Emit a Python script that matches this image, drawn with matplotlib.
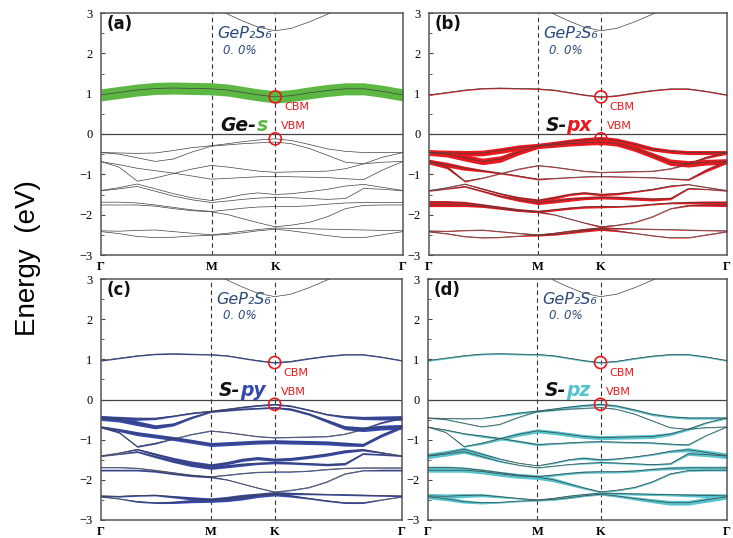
import numpy as np
import matplotlib
matplotlib.use("Agg")
import matplotlib.pyplot as plt
from matplotlib.ticker import MultipleLocator

# ---------------- data ----------------
# k-path positions (fraction of the Γ-M-K-Γ path)
k_M = 0.366
k_K = 0.577
kpts = [0.0, 0.06, 0.12, 0.18, 0.24, 0.30, 0.366, 0.42, 0.47, 0.52, 0.577,
        0.63, 0.69, 0.75, 0.81, 0.87, 0.93, 1.0]
k_labels = ["Γ", "M", "K", "Γ"]

# conduction bands
C1 = [0.97, 1.03, 1.09, 1.13, 1.14, 1.13, 1.12, 1.09, 1.03, 0.97, 0.92, 0.95,
      1.02, 1.08, 1.12, 1.12, 1.06, 0.97]
C2_k = [0.366, 0.42, 0.47, 0.52, 0.577, 0.63, 0.69, 0.75, 0.81]
C2 = [3.25, 2.97, 2.80, 2.65, 2.56, 2.62, 2.78, 2.97, 3.20]

# valence bands
VB1 = [-0.46, -0.47, -0.48, -0.47, -0.41, -0.34, -0.29, -0.24, -0.19, -0.15, -0.12,
       -0.16, -0.26, -0.37, -0.43, -0.46, -0.46, -0.46]
VB2 = [-0.46, -0.50, -0.59, -0.68, -0.62, -0.45, -0.30, -0.27, -0.24, -0.22, -0.20,
       -0.24, -0.36, -0.53, -0.70, -0.74, -0.70, -0.68]
VB3 = [-0.685, -0.76, -0.85, -0.91, -0.97, -1.04, -1.12, -1.10, -1.08, -1.06, -1.05,
       -1.06, -1.07, -1.08, -1.11, -1.13, -0.90, -0.68]
VB4 = [-0.685, -0.82, -1.17, -1.09, -0.98, -0.87, -0.78, -0.82, -0.87, -0.92, -0.95,
       -0.94, -0.93, -0.92, -0.86, -0.74, -0.58, -0.46]
VB5 = [-1.40, -1.33, -1.24, -1.36, -1.48, -1.58, -1.65, -1.58, -1.50, -1.46, -1.50,
       -1.48, -1.43, -1.37, -1.29, -1.25, -1.32, -1.40]
VB6 = [-1.41, -1.36, -1.30, -1.42, -1.54, -1.63, -1.70, -1.66, -1.62, -1.59, -1.57,
       -1.58, -1.60, -1.62, -1.60, -1.35, -1.37, -1.41]
VB7 = [-1.69, -1.69, -1.71, -1.76, -1.82, -1.88, -1.92, -1.88, -1.84, -1.81, -1.80,
       -1.80, -1.78, -1.74, -1.71, -1.70, -1.70, -1.70]
VB8 = [-1.76, -1.76, -1.76, -1.79, -1.85, -1.90, -1.93, -2.00, -2.10, -2.20, -2.30,
       -2.26, -2.19, -2.05, -1.85, -1.77, -1.76, -1.76]
VB9 = [-2.40, -2.41, -2.39, -2.38, -2.42, -2.46, -2.50, -2.46, -2.41, -2.37, -2.33,
       -2.34, -2.35, -2.36, -2.37, -2.38, -2.39, -2.40]
VB10 = [-2.42, -2.47, -2.54, -2.57, -2.56, -2.53, -2.51, -2.49, -2.45, -2.40, -2.36,
        -2.40, -2.46, -2.52, -2.57, -2.57, -2.50, -2.42]

bands = {"C1": C1, "VB1": VB1, "VB2": VB2, "VB3": VB3, "VB4": VB4, "VB5": VB5,
         "VB6": VB6, "VB7": VB7, "VB8": VB8, "VB9": VB9, "VB10": VB10}

# projected weights (half-width of the fat band, eV)
w_Ge_s = {"C1": [0.15] * 18}
w_S_px = {
    "C1": [0.015] * 18,
    "VB1": [.07, .07, .07, .07, .07, .07, .06, .06, .06, .06, .06, .06, .06, .05, .05, .05, .05, .05],
    "VB2": [.07, .07, .08, .08, .08, .07, .06, .06, .06, .06, .06, .06, .07, .07, .08, .08, .07, .07],
    "VB3": [.06, .06, .05, .03, .02, .02, .02, .01, .01, .01, .01, .01, .01, .01, .01, .02, .04, .05],
    "VB4": [.06, .04, .02, .01, .01, .01, .01, .01, .01, .01, .01, .01, .01, .01, .01, .02, .03, .04],
    "VB5": [.01, .01, .01, .02, .02, .03, .04, .04, .03, .03, .03, .03, .02, .02, .02, .01, .01, .01],
    "VB6": [.01, .01, .02, .02, .03, .04, .05, .05, .05, .04, .04, .04, .04, .04, .03, .02, .01, .01],
    "VB7": [.04, .04, .04, .03, .03, .03, .03, .03, .03, .03, .03, .02, .02, .02, .02, .03, .04, .04],
    "VB8": [.04, .04, .04, .03, .02, .02, .02, .01, .01, .01, .02, .01, .01, .01, .01, .02, .03, .04],
    "VB9": [.01, .01, .01, .01, .01, .01, .02, .02, .02, .03, .03, .02, .01, .01, .01, .01, .01, .01],
    "VB10": [.01, .01, .01, .01, .01, .01, .02, .02, .02, .03, .03, .02, .01, .01, .01, .01, .01, .01],
}
w_S_py = {
    "C1": [0.015] * 18,
    "VB1": [.06, .05, .04, .03, .02, .02, .02, .02, .02, .02, .02, .02, .02, .02, .03, .04, .05, .06],
    "VB2": [.06, .06, .06, .05, .04, .03, .02, .02, .02, .02, .02, .03, .03, .04, .05, .06, .06, .06],
    "VB3": [.03, .04, .05, .05, .05, .05, .05, .05, .05, .05, .05, .05, .05, .05, .05, .04, .04, .04],
    "VB4": [.02, .02, .02, .02, .01, .01, .01, .01, .01, .01, .01, .01, .01, .01, .01, .01, .02, .02],
    "VB5": [.01, .01, .02, .03, .04, .05, .05, .04, .04, .04, .04, .04, .04, .04, .04, .03, .02, .01],
    "VB6": [.01, .01, .02, .03, .03, .04, .04, .04, .04, .03, .03, .03, .03, .03, .03, .02, .02, .01],
    "VB7": [.01, .01, .01, .01, .01, .01, .01, .01, .01, .01, .01, .01, .01, .01, .01, .01, .01, .01],
    "VB8": [.02, .02, .02, .02, .02, .02, .02, .01, .01, .01, .01, .01, .01, .01, .01, .01, .02, .02],
    "VB9": [.02, .02, .02, .02, .03, .04, .05, .05, .05, .04, .04, .03, .02, .02, .02, .02, .02, .02],
    "VB10": [.01, .01, .02, .02, .03, .04, .05, .05, .05, .04, .04, .03, .02, .02, .02, .02, .01, .01],
}
w_S_pz = {
    "C1": [0.02] * 18,
    "VB1": [.01, .01, .01, .01, .02, .03, .03, .03, .03, .03, .03, .03, .03, .03, .03, .03, .03, .03],
    "VB2": [.01, .01, .01, .01, .01, .01, .01, .01, .01, .01, .01, .01, .01, .01, .01, .01, .01, .01],
    "VB3": [.01, .02, .02, .03, .03, .03, .03, .02, .02, .02, .02, .02, .02, .02, .02, .02, .01, .01],
    "VB4": [.01, .01, .02, .03, .04, .05, .05, .05, .05, .05, .05, .05, .05, .05, .04, .03, .02, .02],
    "VB5": [.07, .06, .05, .04, .02, .01, .01, .02, .02, .03, .03, .02, .02, .02, .03, .05, .06, .07],
    "VB6": [.06, .05, .04, .03, .02, .01, .01, .01, .01, .02, .02, .02, .02, .02, .02, .04, .05, .06],
    "VB7": [.03, .03, .03, .03, .03, .03, .03, .03, .03, .03, .03, .03, .03, .03, .04, .04, .04, .04],
    "VB8": [.05, .05, .05, .06, .06, .06, .06, .05, .04, .03, .02, .02, .02, .02, .02, .02, .02, .02],
    "VB9": [.06, .06, .05, .04, .03, .02, .02, .02, .03, .03, .03, .03, .03, .03, .03, .04, .05, .05],
    "VB10": [.05, .05, .04, .03, .02, .02, .02, .02, .02, .02, .02, .03, .04, .05, .06, .06, .06, .06],
}

panels = [
    {"tag": "(a)", "orb": "s", "head": "Ge-", "split": 0.515, "color": "#5cb843", "w": w_Ge_s},
    {"tag": "(b)", "orb": "px", "head": "S-", "split": 0.462, "color": "#e8191e", "w": w_S_px},
    {"tag": "(c)", "orb": "py", "head": "S-", "split": 0.462, "color": "#3448ad", "w": w_S_py},
    {"tag": "(d)", "orb": "pz", "head": "S-", "split": 0.462, "color": "#55c3cd", "w": w_S_pz},
]
cbm = 0.92
vbm = -0.12

# ---------------- figure ----------------
W, H = 733, 538
fig = plt.figure(figsize=(W / 100, H / 100), dpi=100)

boxes = [(101, 13, 403, 255), (429, 13, 727, 255), (101, 279, 402, 520), (428, 279, 727, 520)]
txt_blue = "#2b4a7c"
serif = ["Liberation Serif", "DejaVu Serif"]
line_col = "#404040"

for box, p in zip(boxes, panels):
    x0, y0, x1, y1 = box
    ax = fig.add_axes([x0 / W, 1 - y1 / H, (x1 - x0) / W, (y1 - y0) / H])
    ax.set_xlim(0, 1)
    ax.set_ylim(-3, 3)
    for s in ax.spines.values():
        s.set_color("#555555")
        s.set_linewidth(1.1)

    # fat bands
    for name, E in bands.items():
        if name in p["w"]:
            w = np.array(p["w"][name])
            E = np.array(E)
            ax.fill_between(kpts, E - w, E + w, color=p["color"], lw=0, zorder=2)
    # band lines
    for name, E in bands.items():
        ax.plot(kpts, E, color=line_col, lw=0.5, zorder=3)
    ax.plot(C2_k, C2, color=line_col, lw=0.5, zorder=3)

    ax.axvline(k_M, color="#333333", lw=0.8, ls=(0, (4, 3)), zorder=1)
    ax.axvline(k_K, color="#333333", lw=0.8, ls=(0, (4, 3)), zorder=1)
    ax.axhline(0, color="#444444", lw=0.9, zorder=1)

    ax.scatter([k_K, k_K], [cbm, vbm], s=75, facecolors="none", edgecolors="#e8191e",
               linewidths=1.2, zorder=6)

    ax.set_xticks([0, k_M, k_K, 1])
    ax.set_xticklabels(k_labels, fontfamily=serif, fontweight="bold", fontsize=9)
    ax.tick_params(axis="x", length=0, pad=4)
    ax.set_yticks(range(-3, 4))
    ax.yaxis.set_minor_locator(MultipleLocator(0.5))
    ax.tick_params(axis="y", which="major", direction="in", length=3, width=0.8,
                   labelsize=9, pad=6, color="#444444")
    ax.tick_params(axis="y", which="minor", direction="in", length=2, width=0.6,
                   color="#444444")
    for lab in ax.get_yticklabels():
        lab.set_fontfamily(serif)

    ax.text(0.018, 2.72, p["tag"], fontsize=12, fontweight="bold", ha="left",
            va="center", color="#111111")
    ax.text(0.475, 2.5, "GeP₂S₆", fontsize=11.5, fontstyle="italic",
            color=txt_blue, ha="center", va="center")
    ax.text(0.46, 2.08, "0. 0%", fontsize=8.5, fontstyle="italic", color=txt_blue,
            ha="center", va="center")
    ax.text(p["split"], 0.22, p["head"], fontsize=13.5, fontstyle="italic", fontweight="bold",
            color="#111111", ha="right", va="center")
    ax.text(p["split"], 0.22, p["orb"], fontsize=13.5, fontstyle="italic", fontweight="bold",
            color=p["color"], ha="left", va="center")
    ax.text(0.648, 0.66, "CBM", fontsize=8, color="#e8191e", ha="center", va="center")
    ax.text(0.638, 0.19, "VBM", fontsize=8, color="#e8191e", ha="center", va="center")

fig.text(0.038, 0.52, "Energy  (eV)", rotation=90, fontsize=20,
         fontfamily=["Liberation Sans", "DejaVu Sans"], ha="center", va="center")

fig.savefig("out.png", dpi=100)
